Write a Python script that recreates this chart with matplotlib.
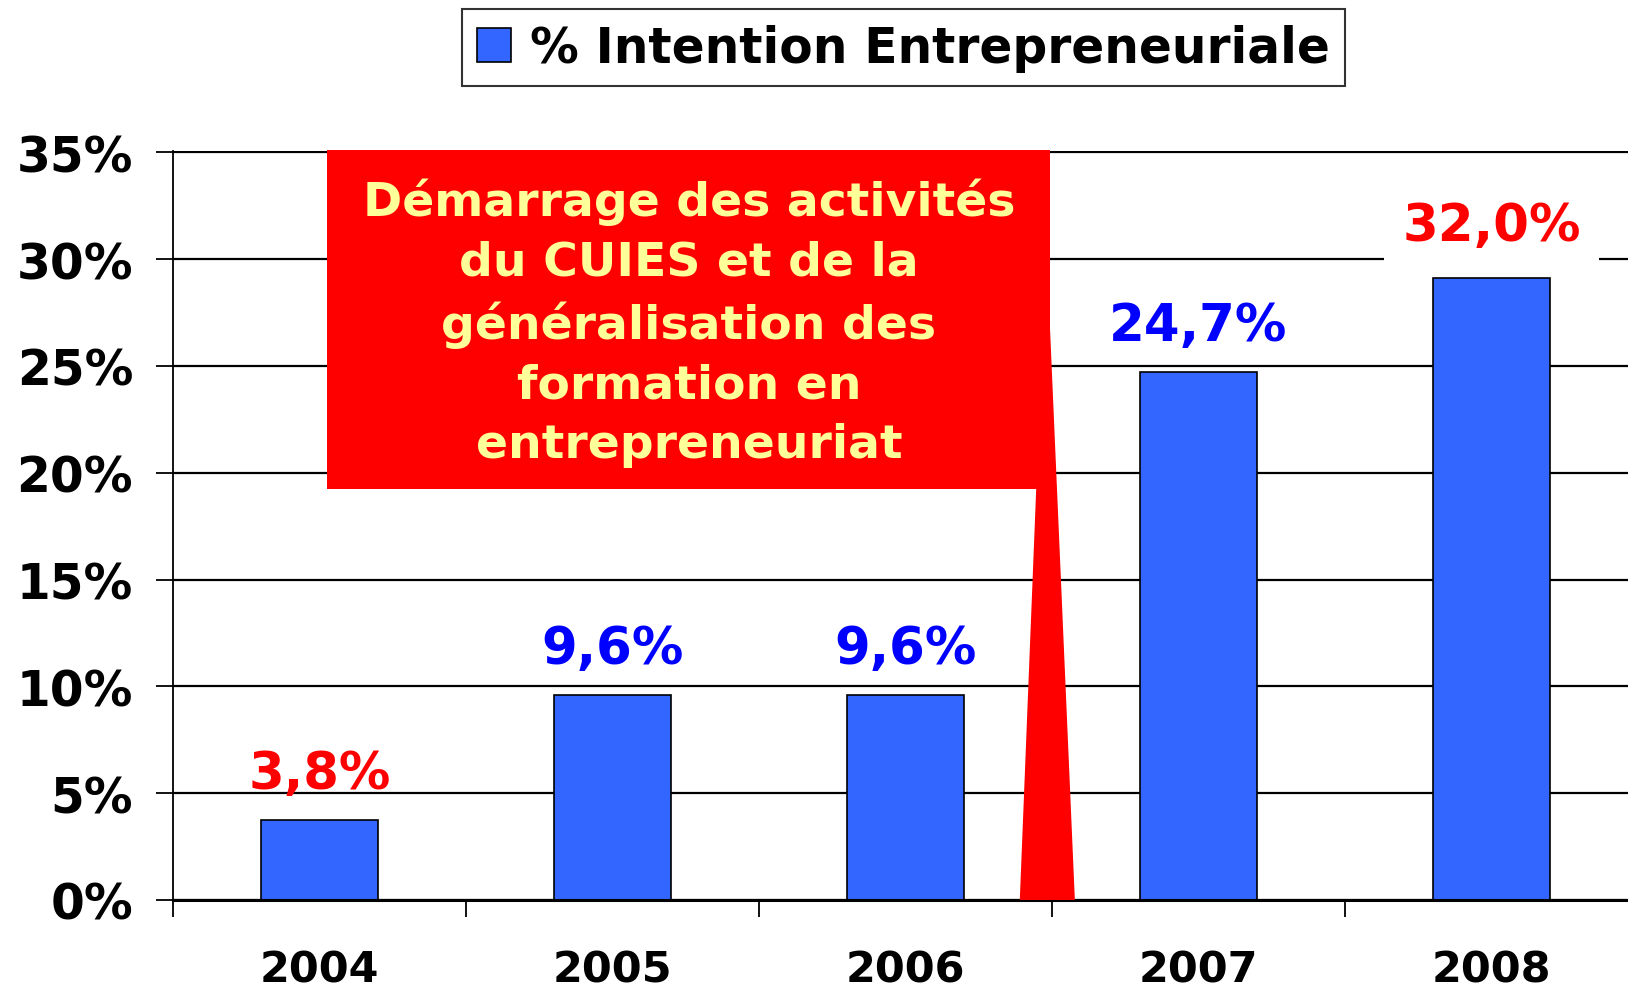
import matplotlib.pyplot as plt
from matplotlib.patches import Rectangle, Polygon
from matplotlib.ticker import FixedLocator
import numpy as np

plt.rcParams['font.family'] = ['DejaVu Sans']

years = ['2004', '2005', '2006', '2007', '2008']
intention = [3.75, 9.6, 9.6, 24.7, 29.1]
value_labels = ['3,8%', '9,6%', '9,6%', '24,7%', '32,0%']
label_colors = ['#FF0000', '#0000FF', '#0000FF', '#0000FF', '#FF0000']
label_offsets = [33, 33, 33, 33, 38]
y_ticks = [0, 5, 10, 15, 20, 25, 30, 35]
callout_text = ("Démarrage des activités\ndu CUIES et de la\n"
                "généralisation des\nformation en\nentrepreneuriat")

fig = plt.figure(figsize=(16.28, 9.95), dpi=100)
ax = fig.add_axes([0.1065, 0.0945, 0.8995, 0.7525])

x = np.arange(len(years))
bars = ax.bar(x, intention, width=0.4, color='#3366FF', edgecolor='black',
              linewidth=1.2, label='% Intention Entrepreneuriale', zorder=2)

ax.set_xlim(-0.5, 4.5)
ax.set_ylim(0, 35.05)
ax.set_yticks(y_ticks)
ax.set_yticklabels([f'{t}%' for t in y_ticks])
ax.set_xticks(x)
ax.set_xticklabels(years)
ax.xaxis.set_minor_locator(FixedLocator(np.arange(-0.5, 5, 1)))

ax.grid(axis='y', color='black', linewidth=1.6)
ax.set_axisbelow(True)
for s in ['top', 'right']:
    ax.spines[s].set_visible(False)
ax.spines['left'].set_linewidth(1.3)
ax.spines['bottom'].set_linewidth(2.2)

ax.tick_params(axis='y', length=12, width=1.3, pad=17, labelsize=35)
ax.tick_params(axis='x', which='major', length=0, pad=35, labelsize=31)
ax.tick_params(axis='x', which='minor', length=12, width=1.3)
for lab in ax.get_xticklabels() + ax.get_yticklabels():
    lab.set_fontweight('bold')

# value labels above bars (only the last one sits on a white box)
for i, (xi, v, txt, c) in enumerate(zip(x, intention, value_labels, label_colors)):
    box = None
    if i == len(x) - 1:
        box = dict(boxstyle='square,pad=0.35', fc='white', ec='none')
    ax.annotate(txt, (xi, v), xytext=(0, label_offsets[i]),
                textcoords='offset points', ha='center', va='center',
                fontsize=37, fontweight='bold', color=c, zorder=5, bbox=box)

# red callout
ax.add_patch(Polygon([[2.48, 30.9], [2.39, 0], [2.578, 0]], closed=True,
                     fc='#FF0000', ec='none', zorder=3, clip_on=False))
ax.add_patch(Rectangle((0.025, 19.25), 2.469, 15.85, fc='#FF0000', ec='none',
                       zorder=3, clip_on=False))
ax.text(1.26, 27.05, callout_text, ha='center', va='center', fontsize=34,
        fontweight='bold', color='#FFFF99', linespacing=1.42, zorder=4)

leg = fig.legend(handles=[bars], loc='center', bbox_to_anchor=(0.555, 0.951),
                 prop={'weight': 'bold', 'size': 35},
                 frameon=True, fancybox=False, edgecolor='black',
                 handlelength=0.7, handleheight=0.7, handletextpad=0.4,
                 borderpad=0.3, borderaxespad=0)
leg.get_frame().set_linewidth(1.5)

plt.savefig('out.png', dpi=100)
